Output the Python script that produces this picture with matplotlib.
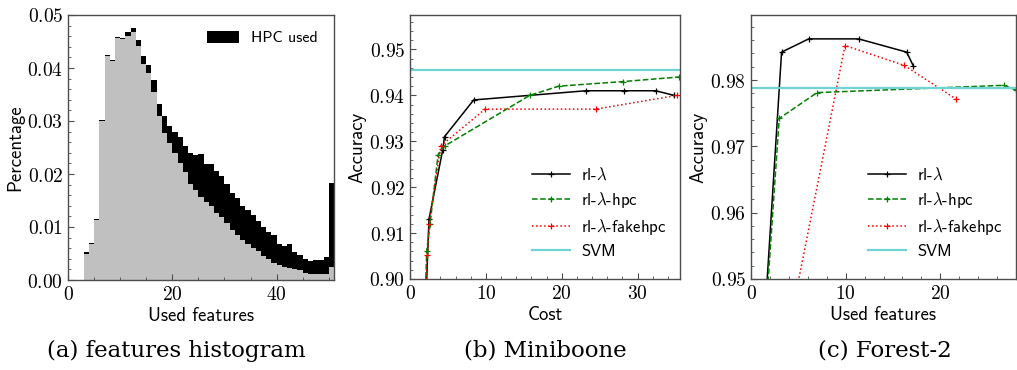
import matplotlib
matplotlib.use("Agg")
import matplotlib.pyplot as plt
import numpy as np
from matplotlib.ticker import FuncFormatter, AutoMinorLocator, MultipleLocator

plt.rcParams['mathtext.fontset'] = 'cm'

# ---------------- data ----------------
# (a) histogram of used features (bins of width 1 starting at 3)
hist_bin_start = list(range(3, 51))
hpc_total = [0.0052, 0.0069, 0.0115, 0.0302, 0.0425, 0.0416, 0.0458, 0.0456,
             0.0467, 0.0475, 0.0453, 0.0423, 0.0406, 0.0377, 0.0332, 0.0309,
             0.0291, 0.0279, 0.0269, 0.0252, 0.0240, 0.0236, 0.0238, 0.0219,
             0.0219, 0.0206, 0.0196, 0.0181, 0.0165, 0.0154, 0.0140, 0.0132,
             0.0123, 0.0111, 0.0100, 0.0091, 0.0084, 0.0068, 0.0064, 0.0068,
             0.0053, 0.0047, 0.0039, 0.0035, 0.0038, 0.0038, 0.0043, 0.0183]
no_hpc = [0.0050, 0.0067, 0.0113, 0.0300, 0.0423, 0.0414, 0.0456, 0.0454,
          0.0461, 0.0468, 0.0442, 0.0408, 0.0390, 0.0355, 0.0309, 0.0278,
          0.0259, 0.0240, 0.0220, 0.0204, 0.0182, 0.0170, 0.0157, 0.0148,
          0.0140, 0.0127, 0.0118, 0.0108, 0.0094, 0.0085, 0.0075, 0.0068,
          0.0061, 0.0054, 0.0046, 0.0039, 0.0033, 0.0028, 0.0025, 0.0022,
          0.0021, 0.0018, 0.0014, 0.0011, 0.0012, 0.0012, 0.0011, 0.0024]

# (b) Miniboone: cost vs accuracy
mb_rl_x = [2.0, 2.5, 4.3, 4.55, 8.4, 23.2, 28.2, 32.4, 34.8]
mb_rl_y = [0.891, 0.913, 0.928, 0.931, 0.939, 0.941, 0.941, 0.941, 0.940]
mb_hpc_x = [2.0, 2.2, 2.64, 3.7, 4.6, 15.8, 19.6, 28.1, 35.5]
mb_hpc_y = [0.895, 0.906, 0.912, 0.927, 0.929, 0.940, 0.942, 0.943, 0.944]
mb_fake_x = [2.0, 2.3, 2.5, 4.06, 9.9, 24.5, 35.2]
mb_fake_y = [0.8965, 0.9052, 0.912, 0.929, 0.937, 0.937, 0.940]
mb_svm = 0.9455

# (c) Forest-2: used features vs accuracy
fo_rl_x = [1.0, 3.23, 6.1, 11.37, 16.45, 17.16]
fo_rl_y = [0.934, 0.9842, 0.9862, 0.9862, 0.9842, 0.9821]
fo_hpc_x = [1.0, 2.98, 6.98, 26.7, 28.0]
fo_hpc_y = [0.933, 0.9742, 0.9781, 0.9792, 0.9785]
fo_fake_x = [4.0, 9.93, 16.2, 21.7]
fo_fake_y = [0.9424, 0.9852, 0.9822, 0.9771]
fo_svm = 0.9788

captions = ["(a) features histogram", "(b) Miniboone", "(c) Forest-2"]

# ---------------- style ----------------
W, H = 1017, 370
fig = plt.figure(figsize=(W / 100, H / 100), dpi=100)

LABEL_FONT = dict(family=['cmss10', 'DejaVu Sans'], size=13.5)
LEG_FONT = {'family': ['cmss10', 'DejaVu Sans'], 'size': 12}
LEG_FONT_A = {'family': ['cmss10', 'DejaVu Sans'], 'size': 11.5}
SPINE_C = '0.3'


def px_axes(l, r, t, b):
    return fig.add_axes([l / W, 1 - b / H, (r - l) / W, (b - t) / H])


def style(ax, xfmt, yfmt):
    ax.xaxis.set_major_formatter(FuncFormatter(xfmt))
    ax.yaxis.set_major_formatter(FuncFormatter(yfmt))
    ax.xaxis.set_minor_locator(AutoMinorLocator())
    ax.yaxis.set_minor_locator(AutoMinorLocator())
    ax.tick_params(which='both', direction='in', top=False, right=False,
                   colors=SPINE_C, labelcolor='black', labelsize=14)
    ax.tick_params(which='major', length=4, width=0.8)
    ax.tick_params(which='minor', length=2, width=0.6)
    for s in ax.spines.values():
        s.set_color(SPINE_C)
        s.set_linewidth(1.0)


fx_int = lambda v, p: f'${v:g}$'
fy2 = lambda v, p: f'${v:.2f}$'

# ---------------- (a) ----------------
axa = px_axes(68, 334, 15, 280)
axa.bar(hist_bin_start, hpc_total, width=1.0, align='edge', color='black',
        linewidth=0, label='HPC used')
axa.bar(hist_bin_start, no_hpc, width=1.0, align='edge', color='#c0c0c0',
        linewidth=0)
axa.set_xlim(0, 51)
axa.set_ylim(0, 0.05)
axa.xaxis.set_major_locator(MultipleLocator(20))
axa.yaxis.set_major_locator(MultipleLocator(0.01))
style(axa, fx_int, fy2)
axa.set_xlabel('Used features', fontdict=LABEL_FONT, labelpad=2)
axa.set_ylabel('Percentage', fontdict=LABEL_FONT, labelpad=2)
axa.legend(loc='upper right', frameon=False, prop=LEG_FONT_A,
           handlelength=2.0, handleheight=0.75, handletextpad=0.8,
           borderaxespad=0.6)


def line_panel(ax, series, svm, xlim, ylim, xstep, xlabel):
    styles = [('k', '-', r'rl-$\lambda$'),
              ('g', '--', r'rl-$\lambda$-hpc'),
              ('r', ':', r'rl-$\lambda$-fakehpc')]
    for (x, y), (c, ls, lab) in zip(series, styles):
        ax.plot(x, y, color=c, linestyle=ls, linewidth=1.1, marker='+',
                markersize=4, markeredgewidth=0.9, label=lab)
    ax.axhline(svm, color='#6fd3d3', linewidth=1.6, label='SVM')
    ax.set_xlim(*xlim)
    ax.set_ylim(*ylim)
    ax.xaxis.set_major_locator(MultipleLocator(xstep))
    ax.yaxis.set_major_locator(MultipleLocator(0.01))
    style(ax, fx_int, fy2)
    ax.set_xlabel(xlabel, fontdict=LABEL_FONT, labelpad=2)
    ax.set_ylabel('Accuracy', fontdict=LABEL_FONT, labelpad=2)
    ax.legend(loc='lower right', bbox_to_anchor=(1.0, 0.025), frameon=False,
              prop=LEG_FONT, numpoints=1, handlelength=2.25,
              handletextpad=0.7, labelspacing=0.43, borderaxespad=0.4)


axb = px_axes(410, 680, 15, 279)
line_panel(axb, [(mb_rl_x, mb_rl_y), (mb_hpc_x, mb_hpc_y), (mb_fake_x, mb_fake_y)],
           mb_svm, (0, 35.6), (0.90, 0.9575), 10, 'Cost')

axc = px_axes(751, 1016, 15, 279)
line_panel(axc, [(fo_rl_x, fo_rl_y), (fo_hpc_x, fo_hpc_y), (fo_fake_x, fo_fake_y)],
           fo_svm, (0, 28), (0.95, 0.9898), 10, 'Used features')

# ---------------- captions ----------------
for cx, cap in zip([176, 545, 885], captions):
    fig.text(cx / W, 1 - 351 / H, cap, ha='center', va='center',
             family=['DejaVu Serif'], size=16.5)

fig.savefig('out.png', dpi=100)
